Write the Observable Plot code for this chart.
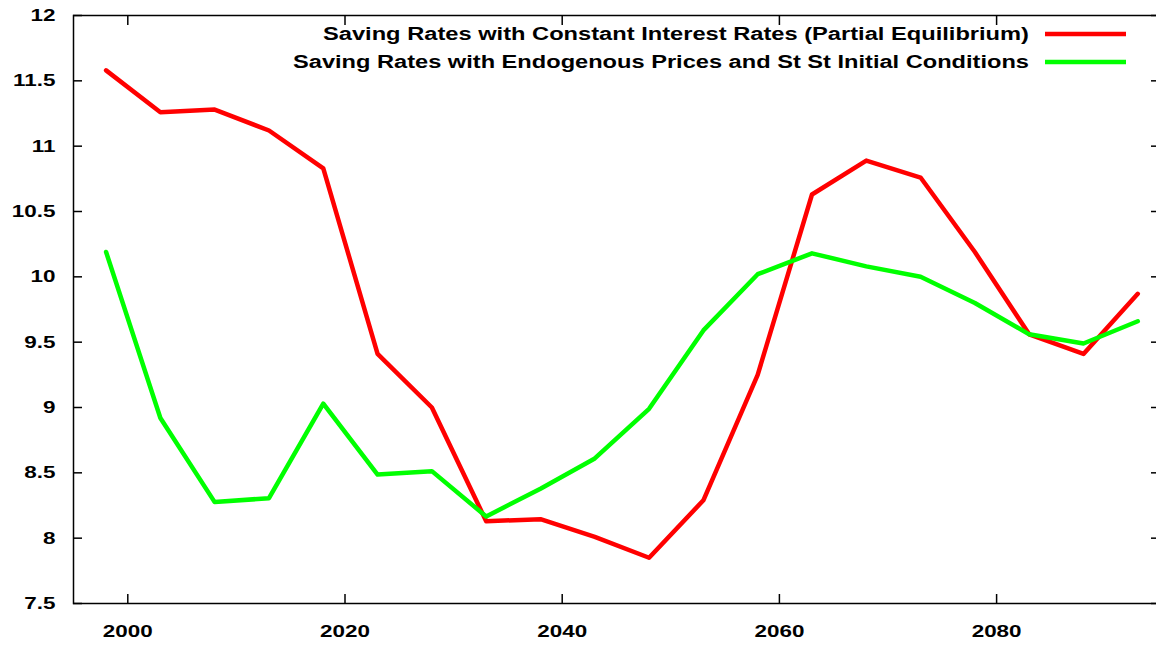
<!DOCTYPE html>
<html>
<head>
<meta charset="utf-8">
<script src="https://cdn.jsdelivr.net/npm/d3@7"></script>
<script src="https://cdn.jsdelivr.net/npm/@observablehq/plot@0.6"></script>
<style>
  body { margin: 0; background: #fff; }
  #chart { width: 1156px; height: 645px; overflow: hidden; }
</style>
</head>
<body>
<div id="chart"></div>
<script>
const years = [1998, 2003, 2008, 2013, 2018, 2023, 2028, 2033, 2038, 2043,
  2048, 2053, 2058, 2063, 2068, 2073, 2078, 2083, 2088, 2093];
const constantRates = [11.58, 11.26, 11.28, 11.12, 10.83, 9.41, 9.00, 8.13, 8.145, 8.01,
  7.85, 8.29, 9.25, 10.63, 10.89, 10.76, 10.19, 9.56, 9.41, 9.87];
const endogenousPrices = [10.19, 8.92, 8.276, 8.306, 9.03, 8.487, 8.513, 8.166, 8.378, 8.61,
  8.99, 9.59, 10.02, 10.18, 10.08, 10.0, 9.8, 9.56, 9.49, 9.66];
const seriesNames = [
  "Saving Rates with Constant Interest Rates (Partial Equilibrium)",
  "Saving Rates with Endogenous Prices and St St Initial Conditions"
];
const seriesColors = ["#ff0000", "#00ff00"];
const yTicks = [7.5, 8, 8.5, 9, 9.5, 10, 10.5, 11, 11.5, 12];
const xTicks = [2000, 2020, 2040, 2060, 2080];

const rows = years.flatMap((year, i) => [
  {year, value: constantRates[i], series: seriesNames[0]},
  {year, value: endogenousPrices[i], series: seriesNames[1]}
]);

const fontFamily = "'Liberation Sans', Arial, sans-serif";

const chart = Plot.plot({
  width: 1156,
  height: 645,
  marginLeft: 73,
  marginRight: -3,
  marginTop: 15,
  marginBottom: 42,
  style: {fontFamily, fontWeight: "bold", fontSize: "17px", color: "#000", background: "#fff"},
  x: {domain: [1995, 2095], label: null},
  y: {domain: [7.5, 12], label: null},
  color: {domain: seriesNames, range: seriesColors},
  marks: [
    Plot.frame({stroke: "#000", strokeWidth: 1.5}),
    Plot.axisY({ticks: yTicks, anchor: "left", tickSize: -9, tickPadding: 27,
      tickFormat: d3.format("~g"), strokeWidth: 1.5, label: null}),
    Plot.axisY({ticks: yTicks, anchor: "right", tickSize: -9,
      tickFormat: () => "", strokeWidth: 1.5, label: null}),
    Plot.axisX({ticks: xTicks, anchor: "bottom", tickSize: -9, tickPadding: 30,
      tickFormat: d3.format("d"), strokeWidth: 1.5, label: null}),
    Plot.axisX({ticks: xTicks, anchor: "top", tickSize: -9,
      tickFormat: () => "", strokeWidth: 1.5, label: null}),
    Plot.line(rows, {x: "year", y: "value", z: "series", stroke: "series", strokeWidth: 4.5})
  ]
});

document.getElementById("chart").append(chart);

// the original's lettering is wide, stretch the tick labels a bit
d3.select(chart).selectAll("text").each(function () {
  if (!this.textContent) return;
  const w = this.getComputedTextLength();
  this.setAttribute("textLength", (w * 1.32).toFixed(1));
  this.setAttribute("lengthAdjust", "spacingAndGlyphs");
});

// legend, top right inside the frame
const legendWidths = [706, 736];
const legend = d3.select(chart).append("g")
  .attr("font-family", fontFamily)
  .attr("font-weight", "bold")
  .attr("font-size", 18);
seriesNames.forEach((name, i) => {
  const cy = 34 + i * 28;
  legend.append("text")
    .attr("x", 1029).attr("y", cy).attr("dy", "0.35em")
    .attr("text-anchor", "end")
    .attr("fill", "#000")
    .attr("textLength", legendWidths[i])
    .attr("lengthAdjust", "spacingAndGlyphs")
    .text(name);
  legend.append("line")
    .attr("x1", 1045).attr("x2", 1126)
    .attr("y1", cy).attr("y2", cy)
    .attr("stroke", seriesColors[i])
    .attr("stroke-width", 4.5);
});
</script>
</body>
</html>
